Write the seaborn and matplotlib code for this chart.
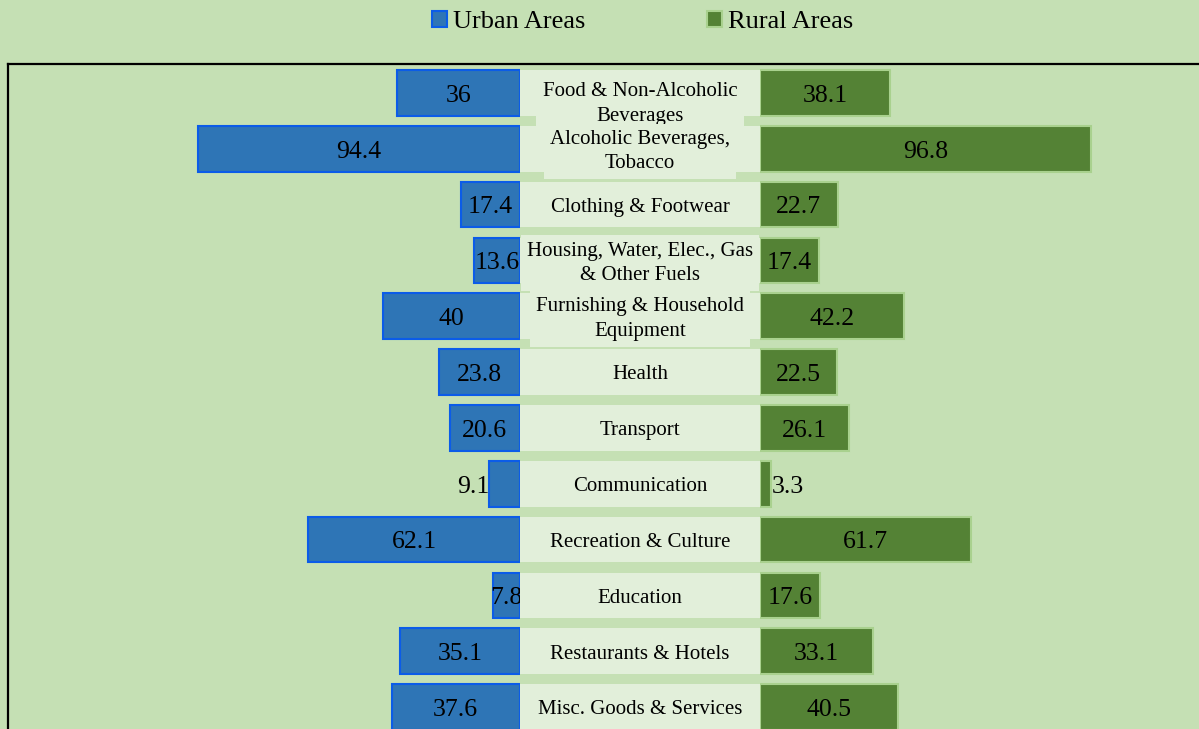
import numpy as np
import pandas as pd
import matplotlib
matplotlib.use("Agg")
import matplotlib.pyplot as plt
from matplotlib.patches import Patch
import seaborn as sns

categories = ["Food & Non-Alcoholic\nBeverages", "Alcoholic Beverages,\nTobacco",
              "Clothing & Footwear", "Housing, Water, Elec., Gas\n& Other Fuels",
              "Furnishing & Household\nEquipment", "Health", "Transport",
              "Communication", "Recreation & Culture", "Education",
              "Restaurants & Hotels", "Misc. Goods & Services"]
urban = [36, 94.4, 17.4, 13.6, 40, 23.8, 20.6, 9.1, 62.1, 7.8, 35.1, 37.6]
rural = [38.1, 96.8, 22.7, 17.4, 42.2, 22.5, 26.1, 3.3, 61.7, 17.6, 33.1, 40.5]
series = ["Urban Areas", "Rural Areas"]

bg = "#c5e0b4"
box = "#e2efda"
urban_face, urban_edge = "#2e75b6", "#0b5ce8"
rural_face, rural_edge = "#548235", "#a9d18e"

plt.rcParams["font.family"] = ["Liberation Serif", "DejaVu Serif"]

W, H = 1199, 729
fig = plt.figure(figsize=(W / 100, H / 100), dpi=100, facecolor=bg)

def px_axes(x0, y0, x1, y1):
    return fig.add_axes([x0 / W, 1 - y1 / H, (x1 - x0) / W, (y1 - y0) / H])

# outer frame
frame = px_axes(7.5, 63.5, 1300, 900)
frame.set_facecolor("none")
frame.set_xticks([]); frame.set_yticks([])
for s in ["right", "bottom"]:
    frame.spines[s].set_visible(False)
for s in ["top", "left"]:
    frame.spines[s].set_linewidth(1.6)
    frame.spines[s].set_color("black")

df = pd.DataFrame({"cat": categories, "urban": urban, "rural": rural})
top, bot = 65, 735
scale = 3.415  # px per unit

axl = px_axes(8, top, 520, bot)
axr = px_axes(760, top, 1199, bot)
axm = px_axes(520, top, 760, bot)

sns.barplot(data=df, x="urban", y="cat", orient="h", ax=axl, color=urban_face,
            saturation=1, edgecolor=urban_edge, linewidth=1.5, width=0.82)
sns.barplot(data=df, x="rural", y="cat", orient="h", ax=axr, color=rural_face,
            saturation=1, edgecolor=rural_edge, linewidth=1.5, width=0.82)

axl.set_xlim(512 / scale, 0)
axr.set_xlim(0, 439 / scale)

outside = {"Communication"}
for ax, vals, side in [(axl, urban, "l"), (axr, rural, "r")]:
    ax.set_ylim(11.5, -0.5)
    ax.axis("off")
    for i, (c, v) in enumerate(zip(categories, vals)):
        if c in outside:
            ax.text(v, i + 0.05, f"{v:g}", ha="right" if side == "l" else "left",
                    va="center", fontsize=18.5)
        else:
            ax.text(v / 2, i + 0.05, f"{v:g}", ha="center", va="center", fontsize=18.5)

# centre label column
axm.set_xlim(0, 1)
axm.set_ylim(11.5, -0.5)
axm.axis("off")
axm.barh(range(len(categories)), 1, height=0.82, left=0, color=box)
for i, c in enumerate(categories):
    dy = 0.2 if i == 0 else 0.05
    kw = {}
    if "\n" in c:
        kw["bbox"] = dict(boxstyle="square,pad=0.3", fc=box, ec="none")
    axm.text(0.5, i + dy, c, ha="center", va="center", fontsize=15,
             linespacing=1.38, **kw)

handles = [Patch(facecolor=urban_face, edgecolor=urban_edge, linewidth=1.5),
           Patch(facecolor=rural_face, edgecolor=rural_edge, linewidth=1.5)]
fig.legend(handles, series, loc="center", bbox_to_anchor=(643 / W, 1 - 22 / H),
           ncol=2, frameon=False, fontsize=19, handlelength=0.55, handleheight=0.55,
           handletextpad=0.25, columnspacing=4.6)

fig.savefig("out.png", dpi=100, facecolor=bg)
